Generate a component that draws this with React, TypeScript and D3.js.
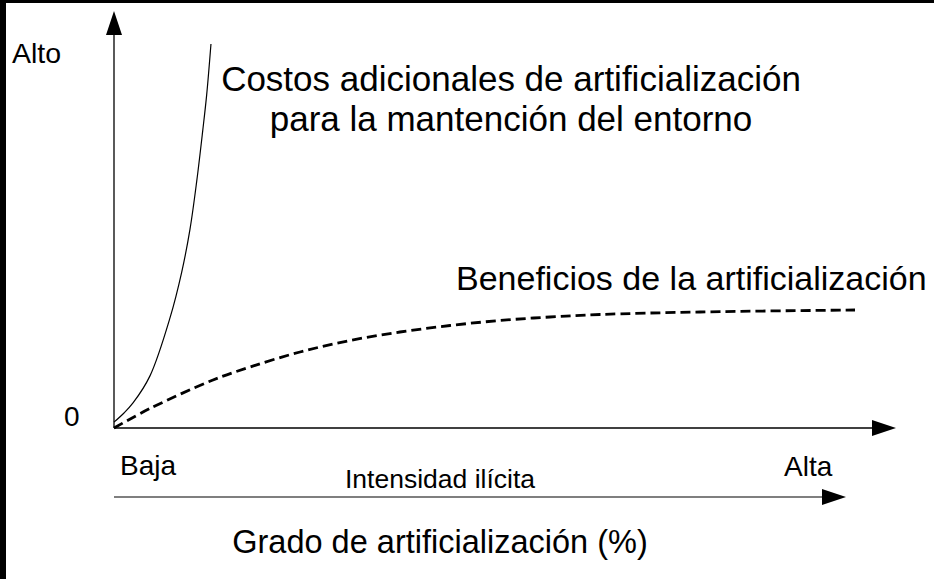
import * as React from 'react'
import * as d3 from 'd3'

const width = 934
const height = 579
const font = '"Liberation Sans", Arial, sans-serif'

// grado de artificialización (%) vs valor relativo (0 = origen, 100 = Alto)
const costX = [0, 1.28, 2.43, 4.6, 7.16, 8.66, 9.72, 10.58, 11.34, 11.85, 12.4]
const costY = [1.4, 3.6, 6.0, 12.5, 26.4, 37.4, 47.7, 59.2, 71.2, 79.9, 92.1]
const benefitX = [0, 4.6, 12.66, 17.39, 23.79, 30.18, 36.57, 42.97, 49.36, 55.75, 62.15, 74.94, 94.76]
const benefitY = [0, 4.68, 11.51, 14.63, 18.23, 20.98, 23.02, 24.58, 25.78, 26.62, 27.22, 27.82, 28.3]

const costLabel = ['Costos adicionales de artificialización', 'para la mantención del entorno']
const benefitLabel = 'Beneficios de la artificialización'
const yLabels = ['0', 'Alto']
const xLabels = ['Baja', 'Alta']
const intensityLabel = 'Intensidad ilícita'
const xTitle = 'Grado de artificialización (%)'

const xScale = d3.scaleLinear().domain([0, 100]).range([114, 896])
const yScale = d3.scaleLinear().domain([0, 100]).range([428, 11])

const App = () => {
  const line = d3
    .line<[number, number]>()
    .x(d => xScale(d[0]))
    .y(d => yScale(d[1]))
    .curve(d3.curveCatmullRom.alpha(0.5))

  const costPts = costX.map((x, i) => [x, costY[i]] as [number, number])
  const benefitPts = benefitX.map((x, i) => [x, benefitY[i]] as [number, number])

  const x0 = xScale(0)
  const y0 = yScale(0)
  const xTip = xScale(100)
  const yTip = yScale(100)
  const head = 24
  const half = 8
  const lowY = 497
  const lowTip = 846

  return (
    <svg width={width} height={height} style={{ position: 'absolute', left: 0, top: 0 }} fontFamily={font}>
      <rect x={0} y={0} width={width} height={height} fill="#fff" />
      <rect x={0} y={0} width={width} height={3} fill="#000" />
      <rect x={0} y={0} width={6} height={height} fill="#000" />

      {/* ejes */}
      <line x1={x0} y1={y0} x2={x0} y2={yTip + head} stroke="#000" strokeWidth={1.3} />
      <path d={`M${x0},${yTip} L${x0 - half},${yTip + head} L${x0 + half},${yTip + head} Z`} fill="#000" />
      <line x1={x0} y1={y0} x2={xTip - head} y2={y0} stroke="#000" strokeWidth={1.5} />
      <path d={`M${xTip},${y0} L${xTip - head},${y0 - half} L${xTip - head},${y0 + half} Z`} fill="#000" />

      {/* flecha de intensidad */}
      <line x1={x0} y1={lowY} x2={lowTip - head} y2={lowY} stroke="#555" strokeWidth={1.5} />
      <path d={`M${lowTip},${lowY} L${lowTip - head},${lowY - half} L${lowTip - head},${lowY + half} Z`} fill="#000" />

      {/* curvas */}
      <path d={line(costPts) ?? ''} fill="none" stroke="#000" strokeWidth={1.2} />
      <path d={line(benefitPts) ?? ''} fill="none" stroke="#000" strokeWidth={2.8} strokeDasharray="10,5" />

      {/* textos */}
      <text x={12} y={63} fontSize={28.5}>{yLabels[1]}</text>
      <text x={64} y={426} fontSize={28}>{yLabels[0]}</text>
      <text x={120} y={475} fontSize={28}>{xLabels[0]}</text>
      <text x={784} y={476} fontSize={28}>{xLabels[1]}</text>
      <text x={345} y={488} fontSize={26.5}>{intensityLabel}</text>
      <text x={511} y={91} fontSize={35} textAnchor="middle">{costLabel[0]}</text>
      <text x={511} y={131} fontSize={35} textAnchor="middle">{costLabel[1]}</text>
      <text x={456} y={290} fontSize={34} >{benefitLabel}</text>
      <text x={440} y={553} fontSize={32.5} textAnchor="middle">{xTitle}</text>
    </svg>
  )
}

export default App
